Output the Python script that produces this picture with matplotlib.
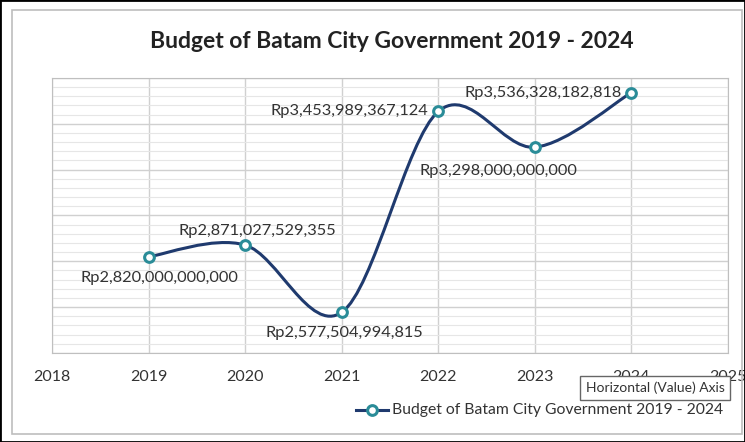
import matplotlib.pyplot as plt
import numpy as np
from matplotlib.path import Path
from matplotlib.patches import PathPatch, Rectangle
from matplotlib.lines import Line2D

years = [2019, 2020, 2021, 2022, 2023, 2024]
budget = [2820000000000, 2871027529355, 2577504994815,
          3453989367124, 3298000000000, 3536328182818]
labels = ["Rp2,820,000,000,000", "Rp2,871,027,529,355", "Rp2,577,504,994,815",
          "Rp3,453,989,367,124", "Rp3,298,000,000,000", "Rp3,536,328,182,818"]
title = "Budget of Batam City Government 2019 - 2024"

plt.rcParams['font.family'] = ['Lato', 'DejaVu Sans']
line_col = '#1f3a6e'
mark_col = '#2a8c98'
text_col = '#333333'

fig = plt.figure(figsize=(7.45, 4.42), dpi=100)
W, H = 745, 442

# chart frame and screenshot edge
fig.patches.append(Rectangle((12 / W, 1 - 434 / H), 730 / W, 424 / H, transform=fig.transFigure,
                             fill=False, edgecolor='#bdbdbd', lw=1.2))
fig.patches.append(Rectangle((0, 0), 1, 1, transform=fig.transFigure,
                             fill=False, edgecolor='black', lw=2))

ax = fig.add_axes([52 / W, 1 - 353 / H, (728 - 52) / W, (353 - 78) / H])
ax.set_xlim(2018, 2025)
ax.set_ylim(2.4e12, 3.6e12)
ax.set_xticks(range(2018, 2026))
ax.set_yticks(np.arange(2.4e12, 3.61e12, 0.2e12))
ax.set_yticks(np.arange(2.4e12, 3.61e12, 0.04e12), minor=True)
ax.grid(True, which='major', color='#d0d0d0', lw=1.0)
ax.grid(True, which='minor', axis='y', color='#e6e6e6', lw=0.8)
ax.set_axisbelow(True)
ax.tick_params(axis='y', which='both', left=False, labelleft=False)
ax.tick_params(axis='x', length=0, labelsize=11.5, labelcolor=text_col, pad=12)
for s in ax.spines.values():
    s.set_color('#bfbfbf')

# smooth curve (Excel-like Catmull-Rom Bezier) drawn in display space
pts = ax.transData.transform(np.column_stack([years, budget]))
n = len(pts)
verts = [pts[0]]
codes = [Path.MOVETO]
for i in range(n - 1):
    p0 = pts[i - 1] if i > 0 else pts[i]
    p1 = pts[i]
    p2 = pts[i + 1]
    p3 = pts[i + 2] if i + 2 < n else pts[i + 1]
    c1 = p1 + (p2 - p0) / 6
    c2 = p2 - (p3 - p1) / 6
    verts += [c1, c2, p2]
    codes += [Path.CURVE4] * 3
curve = PathPatch(Path(verts, codes), transform=None, fill=False,
                  edgecolor=line_col, lw=2.2, zorder=3)
ax.add_patch(curve)
ax.plot(years, budget, ls='none', marker='o', ms=7, mfc='white',
        mec=mark_col, mew=2.2, zorder=4)

# data labels
offsets = [(8, -15, 'center'), (9, 10, 'center'), (2, -15, 'center'),
           (-7, 0, 'right'), (-26, -17, 'center'), (-7, 0, 'right')]
for x, y, lab, (dx, dy, ha) in zip(years, budget, labels, offsets):
    ax.annotate(lab, (x, y), xytext=(dx, dy), textcoords='offset points',
                ha=ha, va='center', fontsize=11.8, color=text_col, zorder=5)

fig.text(392 / W, 1 - 42 / H, title, ha='center', va='center',
         fontsize=16.5, fontweight='bold', color='#222222')

# legend
fig.add_artist(Line2D([356 / W, 388 / W], [1 - 410 / H] * 2, color=line_col, lw=2.2,
                      transform=fig.transFigure))
fig.add_artist(Line2D([372 / W], [1 - 410 / H], marker='o', ms=7, mfc='white',
                      mec=mark_col, mew=2.2, transform=fig.transFigure))
fig.text(392 / W, 1 - 410 / H, title, ha='left', va='center', fontsize=11.3, color=text_col)

# hover tooltip
fig.text(586 / W, 1 - 388 / H, "Horizontal (Value) Axis", ha='left', va='center',
         fontsize=10, color=text_col,
         bbox=dict(boxstyle='square,pad=0.4', fc='white', ec='#666666', lw=1))

fig.savefig('out.png', dpi=100)
